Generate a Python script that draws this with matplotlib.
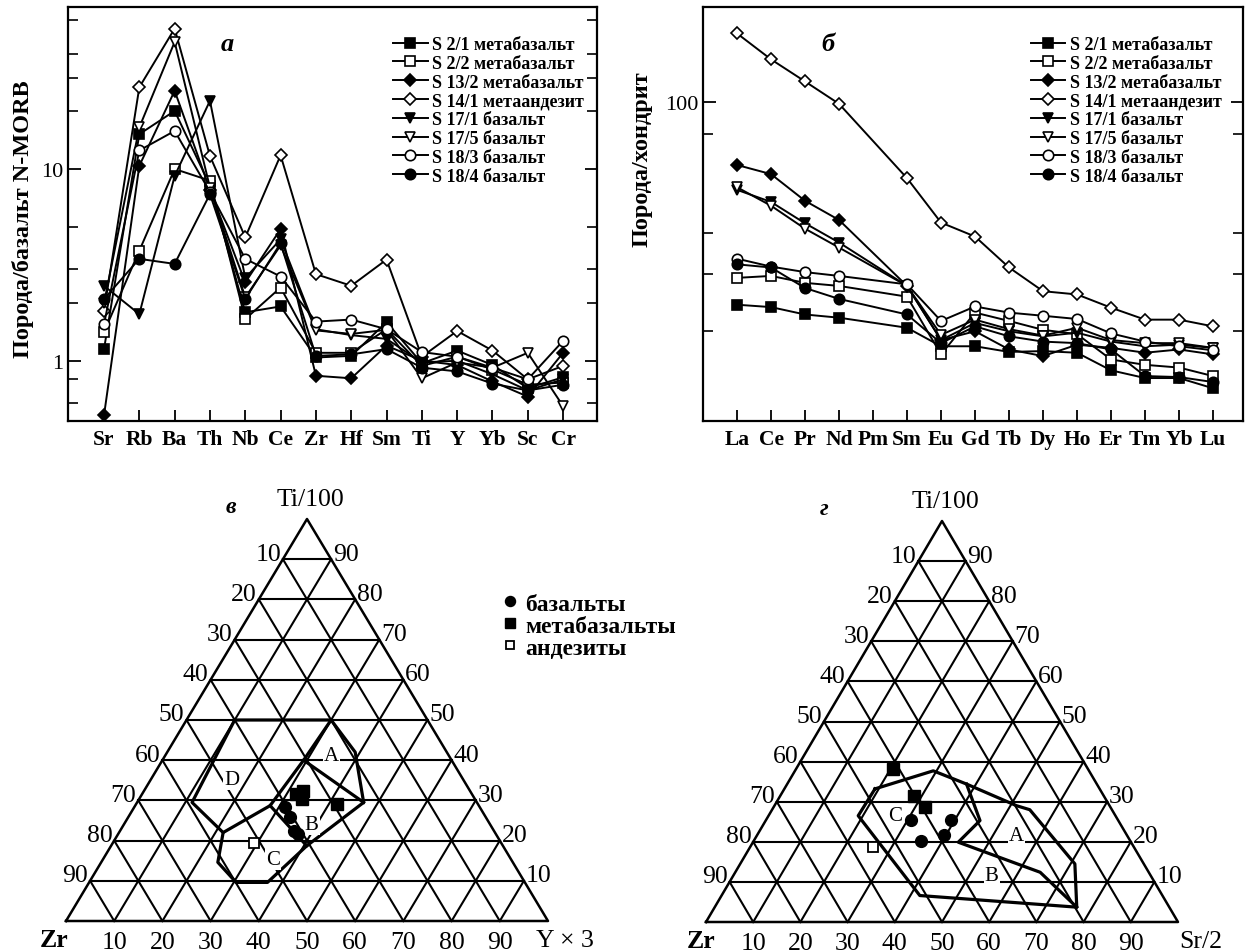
import numpy as np
import matplotlib.pyplot as plt
from matplotlib.ticker import FixedLocator, NullFormatter, FixedFormatter

plt.rcParams['font.family'] = ['Liberation Serif', 'DejaVu Serif']

W, HPX = 1250, 953

# ---------------- а: N-MORB normalised ----------------
morb_elements = ['Sr', 'Rb', 'Ba', 'Th', 'Nb', 'Ce', 'Zr', 'Hf', 'Sm', 'Ti', 'Y', 'Yb', 'Sc', 'Cr']

sample_names = ['S 2/1 метабазальт', 'S 2/2 метабазальт', 'S 13/2 метабазальт',
                'S 14/1 метаандезит', 'S 17/1 базальт', 'S 17/5 базальт',
                'S 18/3 базальт', 'S 18/4 базальт']
sample_markers = ['s', 's', 'D', 'D', 'v', 'v', 'o', 'o']
sample_filled = [True, False, True, False, True, False, False, True]

morb_s2_1 = [1.15, 15.2, 20.1, 8.2, 1.79, 1.92, 1.04, 1.06, 1.59, 0.97, 1.13, 0.95, 0.72, 0.82]
morb_s2_2 = [1.41, 3.75, 10.0, 8.7, 1.65, 2.41, 1.10, 1.10, 1.46, 0.94, 1.05, 0.90, 0.75, 0.77]
morb_s13_2 = [0.52, 10.4, 25.6, 7.8, 2.56, 4.86, 0.835, 0.81, 1.20, 1.00, 0.95, 0.78, 0.65, 1.10]
morb_s14_1 = [1.82, 26.7, 54.0, 11.7, 4.4, 11.8, 2.83, 2.46, 3.37, 1.05, 1.43, 1.13, 0.80, 0.94]
morb_s17_1 = [2.46, 1.75, 9.2, 22.7, 2.70, 4.3, 1.46, 1.36, 1.30, 0.98, 1.00, 0.85, 0.70, 0.80]
morb_s17_5 = [2.00, 16.5, 46.0, 8.0, 2.14, 4.0, 1.44, 1.38, 1.45, 0.81, 0.98, 0.92, 1.10, 0.58]
morb_s18_3 = [1.55, 12.5, 15.8, 7.6, 3.4, 2.75, 1.60, 1.64, 1.46, 1.11, 1.05, 0.92, 0.80, 1.27]
morb_s18_4 = [2.10, 3.4, 3.2, 7.4, 2.10, 4.1, 1.06, 1.08, 1.15, 0.92, 0.88, 0.76, 0.70, 0.75]

# ---------------- б: chondrite normalised REE ----------------
ree_elements = ['La', 'Ce', 'Pr', 'Nd', 'Pm', 'Sm', 'Eu', 'Gd', 'Tb', 'Dy', 'Ho', 'Er', 'Tm', 'Yb', 'Lu']
nan = np.nan
ree_s2_1 = [24.1, 23.7, 22.5, 22.0, nan, 20.5, 18.0, 18.0, 17.3, 17.4, 17.2, 15.2, 14.4, 14.4, 13.4]
ree_s2_2 = [29.1, 29.5, 28.1, 27.5, nan, 25.5, 17.0, 22.8, 21.5, 20.2, 19.6, 16.4, 15.8, 15.5, 14.6]
ree_s13_2 = [64.3, 60.3, 50.0, 43.7, nan, 27.5, 18.8, 20.0, 17.6, 16.8, 18.2, 17.8, 17.2, 17.6, 17.0]
ree_s14_1 = [162.0, 135.0, 115.6, 98.8, nan, 58.6, 42.9, 38.9, 31.3, 26.5, 25.9, 23.6, 21.7, 21.7, 20.7]
ree_s17_1 = [54.0, 49.6, 42.7, 37.3, nan, 27.5, 18.8, 21.2, 20.0, 19.3, 19.8, 18.6, 18.0, 18.2, 17.8]
ree_s17_5 = [55.0, 48.3, 41.1, 36.0, nan, 27.5, 19.5, 21.7, 20.3, 19.4, 20.5, 18.8, 18.4, 18.4, 17.8]
ree_s18_3 = [33.3, 31.5, 30.3, 29.5, nan, 27.8, 21.5, 23.8, 22.8, 22.3, 21.8, 19.7, 18.6, 18.0, 17.5]
ree_s18_4 = [32.0, 31.3, 27.1, 25.1, nan, 22.5, 18.4, 20.7, 19.3, 18.6, 18.4, 17.6, 14.6, 14.5, 14.0]

morb_series = [morb_s2_1, morb_s2_2, morb_s13_2, morb_s14_1, morb_s17_1, morb_s17_5, morb_s18_3, morb_s18_4]
ree_series = [ree_s2_1, ree_s2_2, ree_s13_2, ree_s14_1, ree_s17_1, ree_s17_5, ree_s18_3, ree_s18_4]

# ---------------- в: Ti/100 - Zr - Y*3 (values in %: Ti, Y) ----------------
tzy_basalt_ti = [28.3, 25.8, 22.4, 21.6]
tzy_basalt_y = [31.3, 33.6, 36.2, 37.4]
tzy_meta_ti = [32.4, 31.5, 30.3, 29.1]
tzy_meta_y = [33.0, 32.0, 33.8, 41.6]
tzy_andes_ti = [19.4]
tzy_andes_y = [29.3]
tzy_outline = [(50, 10), (50, 30), (42, 39), (29.5, 47), (18.7, 40.6), (9.6, 37), (9.6, 30.5),
               (14.6, 24.2), (22, 21.6), (29.5, 11.4), (50, 10)]
tzy_inner = [[(50, 30), (40, 29.3), (29.5, 47)],
             [(40, 29.3), (28.7, 28.0), (22, 21.6)],
             [(28.7, 28.0), (18.7, 40.6)]]
tzy_fields = {'A': (41.1, 34.6), 'B': (24.1, 38.9), 'C': (15.4, 35.3), 'D': (35.1, 16.8)}

# ---------------- г: Ti/100 - Zr - Sr/2 (values in %: Ti, Sr) ----------------
tzs_basalt_ti = [25.5, 25.5, 20.3, 21.7]
tzs_basalt_sr = [30.6, 39.1, 35.5, 39.6]
tzs_meta_ti = [38.2, 31.5, 28.6]
tzs_meta_sr = [20.5, 28.3, 32.1]
tzs_andes_ti = [18.6]
tzs_andes_sr = [26.1]
tzs_outline = [(33.2, 19.2), (37.7, 29.3), (34.4, 38.0), (29, 51.3), (28, 54.6), (14.5, 70.9),
               (3.7, 76.7), (6.6, 42), (26.5, 19), (33.2, 19.2)]
tzs_inner = [[(34.4, 38.0), (25.3, 45.4), (19.9, 43.5), (12.4, 64.6), (3.7, 76.7)]]
tzs_fields = {'A': (21.5, 55.1), 'B': (11.5, 54.8), 'C': (26.5, 26.8)}

grid_levels = [10, 20, 30, 40, 50, 60, 70, 80, 90]

fig = plt.figure(figsize=(W / 100, HPX / 100), dpi=100)


def spider(rect, elements, series, ylim, major, minor, ylabel, ylab_xy, letter, letter_xy,
           leg_anchor, xlim):
    ax = fig.add_axes(rect)
    x = np.arange(len(elements))
    for vals, name, mk, fl in zip(series, sample_names, sample_markers, sample_filled):
        v = np.array(vals, dtype=float)
        ok = np.isfinite(v)
        ms = 6.5 if mk == 'D' else 7.5
        ax.plot(x[ok], v[ok], color='black', lw=1.4, marker=mk, ms=ms, mew=1.2,
                mfc='black' if fl else 'white', mec='black', label=name)
    ax.set_yscale('log')
    ax.set_ylim(*ylim)
    ax.set_xlim(*xlim)
    ax.set_xticks(x)
    ax.set_xticklabels(elements, fontsize=15.5, fontweight='bold')
    ax.yaxis.set_major_locator(FixedLocator(major))
    ax.yaxis.set_major_formatter(FixedFormatter([f'{m:g}' for m in major]))
    ax.yaxis.set_minor_locator(FixedLocator(minor))
    ax.yaxis.set_minor_formatter(NullFormatter())
    ax.tick_params(axis='y', which='both', direction='in', right=True, labelsize=16)
    ax.tick_params(axis='y', which='major', length=9, width=1.3)
    ax.tick_params(axis='y', which='minor', length=7, width=1.2)
    ax.tick_params(axis='x', direction='in', length=8, width=1.3, pad=6)
    for s in ax.spines.values():
        s.set_linewidth(1.6)
    ax.text(ylab_xy[0], ylab_xy[1], ylabel, transform=ax.transAxes, rotation=90,
            ha='center', va='center', fontsize=17.5, fontweight='bold')
    ax.text(letter_xy[0], letter_xy[1], letter, transform=ax.transAxes, ha='center',
            va='center', fontsize=19, fontstyle='italic', fontweight='bold')
    ax.legend(loc='upper left', bbox_to_anchor=leg_anchor, frameon=False,
              prop={'weight': 'bold', 'size': 13}, handlelength=1.9, handletextpad=0.25,
              labelspacing=0.1, borderpad=0, borderaxespad=0)
    return ax


spider([68 / W, 1 - 422 / HPX, 529 / W, 414 / HPX], morb_elements, morb_series,
       (0.485, 70), [1, 10], [0.6, 0.8, 2, 3, 5, 20, 30, 40, 60],
       'Порода/базальт N-MORB', (-0.085, 0.49), 'а', (0.302, 0.911), (0.615, 0.93),
       (-1.02, 13.96))
spider([703 / W, 1 - 422 / HPX, 540 / W, 414 / HPX], ree_elements, ree_series,
       (10.65, 195), [100], [20, 30, 40, 80],
       'Порода/хондрит', (-0.112, 0.635), 'б', (0.231, 0.911), (0.607, 0.93),
       (-1.0, 14.88))

H = np.sqrt(3) / 2


def txy(ti, right):
    ti = np.asarray(ti, dtype=float) / 100.0
    right = np.asarray(right, dtype=float) / 100.0
    return right + ti / 2, ti * H


def ternary(rect, top_lab, left_lab, right_lab, letter, letter_x, corner_dx,
            basalt, meta, andes, outline, inner, fields):
    ax = fig.add_axes(rect)
    ax.set_xlim(0, 1)
    ax.set_ylim(0, H)
    ax.axis('off')
    for f in np.array(grid_levels) / 100.0:
        ax.plot([f / 2, 1 - f / 2], [f * H, f * H], color='black', lw=1.5, clip_on=False)
        ax.plot([f, f + (1 - f) / 2], [0, (1 - f) * H], color='black', lw=1.5, clip_on=False)
        ax.plot([1 - f, (1 - f) / 2], [0, (1 - f) * H], color='black', lw=1.5, clip_on=False)
    ax.plot([0, 1, 0.5, 0], [0, 0, H, 0], color='black', lw=1.8, clip_on=False)
    for g in grid_levels:
        t = 1 - g / 100.0
        ax.text(t / 2 - 0.004, t * H + 0.012, f'{g}', ha='right', va='center', fontsize=18.5)
        ax.text(1 - t / 2 + 0.004, t * H + 0.012, f'{int(round(t * 100))}', ha='left',
                va='center', fontsize=18.5)
        ax.text(g / 100.0, -0.022, f'{g}', ha='center', va='top', fontsize=18.5)
    ax.text(0.508, 0.91, top_lab, ha='center', va='center', fontsize=18.5)
    ax.text(corner_dx[0], -0.04, left_lab, ha='center', va='center', fontsize=18.5,
            fontweight='bold')
    ax.text(corner_dx[1], -0.04, right_lab, ha='center', va='center', fontsize=18.5)
    ax.text(letter_x, 0.893, letter, ha='center', va='center', fontsize=17,
            fontstyle='italic', fontweight='bold')
    ox, oy = txy(*zip(*outline))
    ax.plot(ox, oy, color='black', lw=2.3, clip_on=False, zorder=3)
    for seg in inner:
        sx, sy = txy(*zip(*seg))
        ax.plot(sx, sy, color='black', lw=2.3, clip_on=False, zorder=3)
    for lab, (ti, r) in fields.items():
        fx, fy = txy(ti, r)
        ax.text(fx, fy, lab, ha='center', va='center', fontsize=15, zorder=4,
                bbox=dict(boxstyle='square,pad=0.05', fc='white', ec='none'))
    bx, by = txy(*basalt)
    hb, = ax.plot(bx, by, 'o', ms=8.5, color='black', ls='none', zorder=5, clip_on=False)
    mx, my = txy(*meta)
    hm, = ax.plot(mx, my, 's', ms=8.5, color='black', ls='none', zorder=5, clip_on=False)
    ax_, ay = txy(*andes)
    ha_, = ax.plot(ax_, ay, 's', ms=7.5, mfc='white', mec='black', mew=1.3, ls='none',
                   zorder=5, clip_on=False)
    return hb, hm, ha_


hb, hm, ha_ = ternary([66 / W, 31 / HPX, 482 / W, 402 / HPX], 'Ti/100', 'Zr', 'Y × 3', 'в', 0.342,
                      (-0.025, 1.035), (tzy_basalt_ti, tzy_basalt_y), (tzy_meta_ti, tzy_meta_y),
                      (tzy_andes_ti, tzy_andes_y), tzy_outline, tzy_inner, tzy_fields)
ternary([706 / W, 30 / HPX, 472 / W, 401 / HPX], 'Ti/100', 'Zr', 'Sr/2', 'г', 0.25,
        (-0.011, 1.049), (tzs_basalt_ti, tzs_basalt_sr), (tzs_meta_ti, tzs_meta_sr),
        (tzs_andes_ti, tzs_andes_sr), tzs_outline, tzs_inner, tzs_fields)

leg = fig.legend([hb, hm, ha_], ['базальты', 'метабазальты', 'андезиты'], loc='upper left',
                 bbox_to_anchor=(503 / W, 1 - 594 / HPX), frameon=False,
                 prop={'weight': 'bold', 'size': 17}, handlelength=0.6, handletextpad=0.35,
                 labelspacing=0.02, borderpad=0, borderaxespad=0, markerscale=0.85)

fig.savefig('out.png', dpi=100)
